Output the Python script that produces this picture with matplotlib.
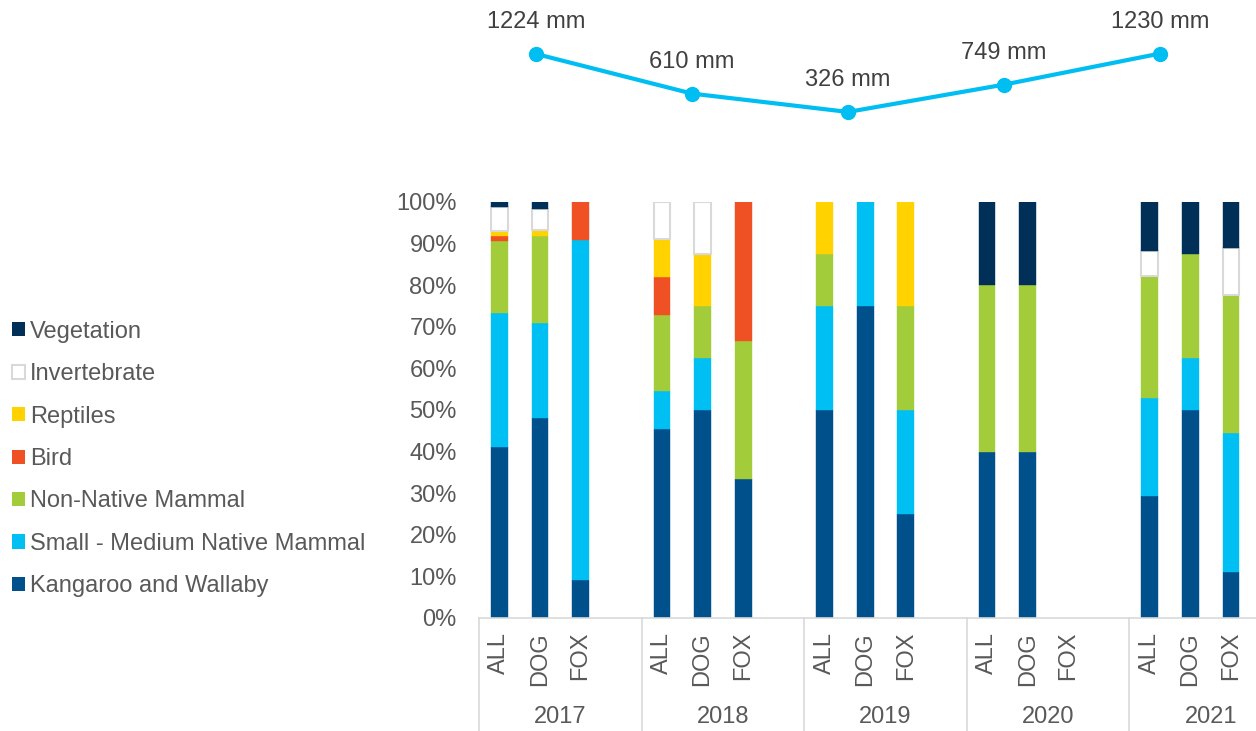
import numpy as np
import matplotlib.pyplot as plt
from matplotlib.patches import Patch

plt.rcParams['font.family'] = ['Liberation Sans', 'DejaVu Sans']

# -Daten----------------------------------------------------------------------#

years = ['2017', '2018', '2019', '2020', '2021']
predators = ['ALL', 'DOG', 'FOX']
rainfall = [1224, 610, 326, 749, 1230]

# prey shares in % per bar, order: 2017 ALL/DOG/FOX, 2018 ..., 2021 ...
kangaroo = [41.1, 48.1, 9.1, 45.5, 50.0, 33.3, 50.0, 75.0, 25.0, 40.0, 40.0, 0.0, 29.4, 50.0, 11.1]
small_native = [32.1, 22.7, 81.8, 9.1, 12.5, 0.0, 25.0, 25.0, 25.0, 0.0, 0.0, 0.0, 23.5, 12.5, 33.3]
non_native = [17.4, 21.1, 0.0, 18.2, 12.5, 33.3, 12.5, 0.0, 25.0, 40.0, 40.0, 0.0, 29.4, 25.0, 33.3]
bird = [1.3, 0.0, 9.1, 9.1, 0.0, 33.4, 0.0, 0.0, 0.0, 0.0, 0.0, 0.0, 0.0, 0.0, 0.0]
reptiles = [1.2, 1.4, 0.0, 9.1, 12.5, 0.0, 12.5, 0.0, 25.0, 0.0, 0.0, 0.0, 0.0, 0.0, 0.0]
invertebrate = [5.6, 5.0, 0.0, 9.0, 12.5, 0.0, 0.0, 0.0, 0.0, 0.0, 0.0, 0.0, 5.9, 0.0, 11.2]
vegetation = [1.3, 1.7, 0.0, 0.0, 0.0, 0.0, 0.0, 0.0, 0.0, 20.0, 20.0, 0.0, 11.8, 12.5, 11.1]

series = [
    ('Kangaroo and Wallaby', kangaroo, '#00508C', '#00508C'),
    ('Small - Medium Native Mammal', small_native, '#00C0F3', '#00C0F3'),
    ('Non-Native Mammal', non_native, '#A2CC3A', '#A2CC3A'),
    ('Bird', bird, '#F05124', '#F05124'),
    ('Reptiles', reptiles, '#FFD200', '#FFD200'),
    ('Invertebrate', invertebrate, 'white', '#D9D9D9'),
    ('Vegetation', vegetation, '#003057', '#003057'),
]

textgrey = '#595959'
fs = 17
W, H = 1256, 731

# -Diagramm-------------------------------------------------------------------#

fig = plt.figure(figsize=(W / 100, H / 100), dpi=100)

# stacked bars, 4 slots per year (last one empty)
ax = fig.add_axes([479 / W, (H - 618) / H, 813 / W, 416 / H])
pos = np.array([4 * g + k for g in range(len(years)) for k in range(len(predators))])
bottom = np.zeros(len(pos))
handles = []
for name, vals, fc, ec in series:
    vals = np.asarray(vals)
    lw = 1.5 if fc == 'white' else 0.3
    nz = vals > 0
    ax.bar(pos[nz], vals[nz], 0.41, bottom=bottom[nz], color=fc, edgecolor=ec,
           linewidth=lw, zorder=2)
    bottom += vals
    handles.append(Patch(facecolor=fc, edgecolor=ec, linewidth=1.5 if fc == 'white' else 0, label=name))

ax.set_xlim(-0.5, 4 * len(years) - 0.5)
ax.set_ylim(0, 100)
ax.set_yticks(np.arange(0, 101, 10))
ax.set_yticklabels(['%d%%' % v for v in range(0, 101, 10)], color=textgrey, fontsize=fs)
ax.tick_params(axis='y', length=0, pad=16)
ax.set_xticks(pos)
ax.set_xticklabels(predators * len(years), rotation=90, color=textgrey, fontsize=fs)
ax.tick_params(axis='x', length=0, pad=10)
for s in ['top', 'right', 'left']:
    ax.spines[s].set_visible(False)
ax.spines['bottom'].set_color('#D9D9D9')
ax.spines['bottom'].set_linewidth(1.2)

# year separators and year labels below the axis
trans = ax.get_xaxis_transform()
for g in range(len(years) + 1):
    ax.plot([4 * g - 0.5, 4 * g - 0.5], [0, -0.3], color='#D9D9D9', lw=1.2,
            transform=trans, clip_on=False)
for g, yr in enumerate(years):
    ax.text(4 * g + 1.5, -0.238, yr, transform=trans, ha='center', va='center',
            color=textgrey, fontsize=fs)

# legend on the left, Vegetation at the top
fig.legend(handles=handles[::-1], loc='center left', bbox_to_anchor=(3 / W, 1 - 459 / H),
           frameon=False, fontsize=fs, labelcolor=textgrey, handlelength=0.55,
           handleheight=0.55, handletextpad=0.2, labelspacing=0.865, borderaxespad=0)

# rainfall line on top
ax2 = fig.add_axes([458 / W, (H - 133) / H, 780 / W, 133 / H])
xr = np.arange(len(rainfall))
ax2.plot(xr, rainfall, color='#00BEF2', lw=3, marker='o', markersize=10, solid_capstyle='round')
for x, r in zip(xr, rainfall):
    ax2.annotate('%d mm' % r, (x, r), xytext=(0, 23), textcoords='offset points',
                 ha='center', va='center', color='#404040', fontsize=fs)
ax2.set_xlim(-0.5, len(rainfall) - 0.5)
ax2.set_ylim(0, 2059)
ax2.axis('off')

plt.savefig('out.png', dpi=100)
